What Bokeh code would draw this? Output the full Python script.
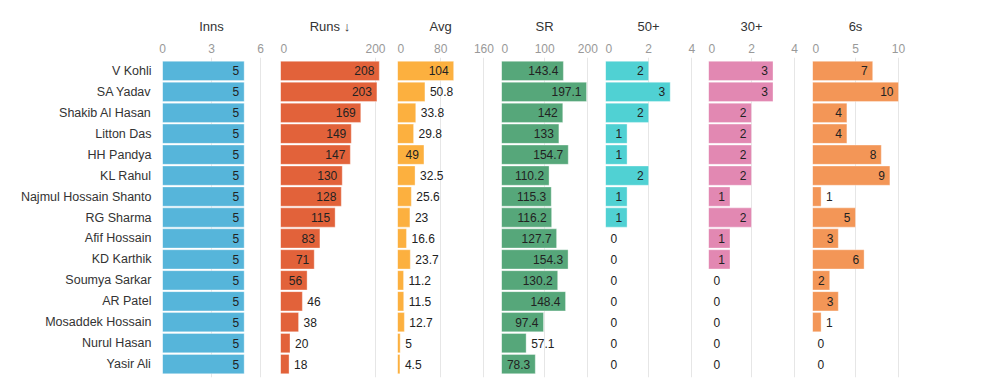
from bokeh.plotting import figure
from bokeh.layouts import row, column
from bokeh.models import ColumnDataSource, FactorRange, Range1d, FixedTicker
from bokeh.core.properties import value
from bokeh.embed import file_html
from bokeh.resources import INLINE

# ---- data ----
names = ["V Kohli", "SA Yadav", "Shakib Al Hasan", "Litton Das", "HH Pandya", "KL Rahul",
         "Najmul Hossain Shanto", "RG Sharma", "Afif Hossain", "KD Karthik", "Soumya Sarkar",
         "AR Patel", "Mosaddek Hossain", "Nurul Hasan", "Yasir Ali"]
inns = [5, 5, 5, 5, 5, 5, 5, 5, 5, 5, 5, 5, 5, 5, 5]
runs = [208, 203, 169, 149, 147, 130, 128, 115, 83, 71, 56, 46, 38, 20, 18]
avg = [104, 50.8, 33.8, 29.8, 49, 32.5, 25.6, 23, 16.6, 23.7, 11.2, 11.5, 12.7, 5, 4.5]
sr = [143.4, 197.1, 142, 133, 154.7, 110.2, 115.3, 116.2, 127.7, 154.3, 130.2, 148.4, 97.4, 57.1, 78.3]
fifties = [2, 3, 2, 1, 1, 2, 1, 1, 0, 0, 0, 0, 0, 0, 0]
thirties = [3, 3, 2, 2, 2, 2, 1, 2, 1, 1, 0, 0, 0, 0, 0]
sixes = [7, 10, 4, 4, 8, 9, 1, 5, 3, 6, 2, 3, 1, 0, 0]

titles = ["Inns", "Runs \u2193", "Avg", "SR", "50+", "30+", "6s"]
series = [inns, runs, avg, sr, fifties, thirties, sixes]
ticks = [[0, 3, 6], [0, 200], [0, 80, 160], [0, 100, 200], [0, 2, 4], [0, 2, 4], [0, 5, 10]]
colors = ["#56b5da", "#e2623a", "#fcb03f", "#56a77a", "#50d1d3", "#e288b2", "#f39657"]

# ---- layout (pixels) ----
starts = [162, 280, 397, 501, 605, 708, 812]
widths = [112, 112, 100, 100, 99, 100, 100]
px_per_unit = [98 / 6, 95 / 200, 86.4 / 160, 86.3 / 200, 86.3 / 4, 86 / 4, 86 / 10]
FONT = "Liberation Sans"
HEAD_TOP = 15
HEAD_H = 22
TOP = 20
BOTTOM = 2
FRAME_H = 320


def fmt(v):
    return f"{v:g}"


def text_w(s):
    w = 0.0
    for ch in s:
        w += 3.34 if ch == "." else 6.67
    return w


heads = []
figs = []
for i in range(7):
    vals = series[i]
    scale = px_per_unit[i]
    dmax = widths[i] / scale
    next_start = starts[i + 1] if i < 6 else starts[i] + widths[i] + 4
    border_r = next_start - starts[i] - widths[i]
    first = i == 0

    # ---- heading strip ----
    h = figure(
        x_range=Range1d(0, dmax), y_range=Range1d(-1, 1),
        frame_width=widths[i], frame_height=HEAD_H,
        x_axis_location=None, y_axis_location=None,
        toolbar_location=None, output_backend="svg",
        min_border_left=starts[0] if first else 0,
        min_border_right=border_r, min_border_top=HEAD_TOP, min_border_bottom=0,
        outline_line_color=None, background_fill_color="white",
    )
    h.xgrid.grid_line_color = None
    h.ygrid.grid_line_color = None
    mid = max(max(ticks[i]), max(vals)) / 2
    h.text(x=[mid], y=[0], text=[titles[i]], text_align="center", text_baseline="middle",
           text_font=value(FONT), text_font_size="13px", text_color="#333333")
    heads.append(h)

    # ---- bar panel ----
    p = figure(
        y_range=FactorRange(factors=names[::-1], range_padding=0.0187),
        x_range=Range1d(0, dmax),
        frame_width=widths[i], frame_height=FRAME_H,
        x_axis_location="above",
        y_axis_location="left" if first else None,
        toolbar_location=None, output_backend="svg",
        min_border_left=starts[0] if first else 0,
        min_border_right=border_r, min_border_top=TOP, min_border_bottom=BOTTOM,
        outline_line_color=None, background_fill_color="white",
    )

    labels = [fmt(v) for v in vals]
    inside = [v * scale >= text_w(s) + 9 for v, s in zip(vals, labels)]
    src = ColumnDataSource(dict(name=names, v=vals, lab=labels))
    p.hbar(y="name", left=0, right="v", height=0.92, source=src,
           fill_color=colors[i], line_color="white", line_alpha=0.35, line_width=1)

    src_in = ColumnDataSource(dict(
        name=[n for n, f in zip(names, inside) if f],
        v=[v for v, f in zip(vals, inside) if f],
        lab=[s for s, f in zip(labels, inside) if f]))
    src_out = ColumnDataSource(dict(
        name=[n for n, f in zip(names, inside) if not f],
        v=[v for v, f in zip(vals, inside) if not f],
        lab=[s for s, f in zip(labels, inside) if not f]))
    p.text(x="v", y="name", text="lab", source=src_in, x_offset=-5,
           text_align="right", text_baseline="middle", text_font=value(FONT),
           text_font_size="12px", text_color="#222222")
    p.text(x="v", y="name", text="lab", source=src_out, x_offset=5,
           text_align="left", text_baseline="middle", text_font=value(FONT),
           text_font_size="12px", text_color="#222222")

    ax = p.xaxis[0]
    ax.ticker = FixedTicker(ticks=ticks[i])
    ax.axis_line_color = None
    ax.major_tick_line_color = None
    ax.minor_tick_line_color = None
    ax.major_tick_out = 0
    ax.major_tick_in = 0
    ax.major_label_standoff = 5
    ax.major_label_text_font = FONT
    ax.major_label_text_font_size = "12px"
    ax.major_label_text_color = "#999999"

    p.xgrid.ticker = FixedTicker(ticks=ticks[i])
    p.xgrid.grid_line_color = "#e6e6e6"
    p.ygrid.grid_line_color = None

    if first:
        ya = p.yaxis[0]
        ya.axis_line_color = None
        ya.major_tick_line_color = None
        ya.minor_tick_line_color = None
        ya.major_tick_out = 0
        ya.major_tick_in = 0
        ya.major_label_standoff = 11
        ya.major_label_text_font = FONT
        ya.major_label_text_font_size = "12.5px"
        ya.major_label_text_color = "#333333"
    figs.append(p)

layout = column(row(*heads, spacing=0), row(*figs, spacing=0), spacing=0)
open("out.html", "w").write(file_html(layout, INLINE))
